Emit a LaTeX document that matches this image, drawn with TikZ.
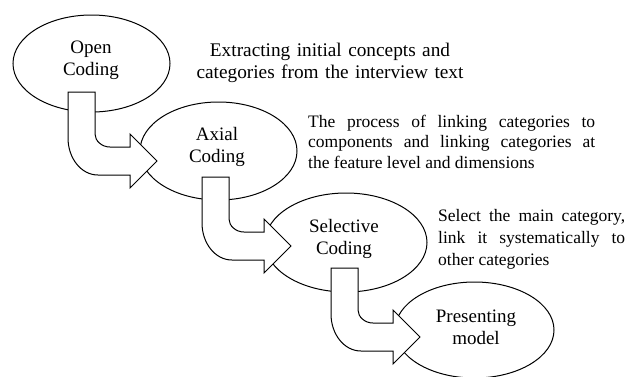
\documentclass[tikz,border=0pt]{standalone}
\usepackage{fontspec}
\setmainfont{Liberation Serif}
\usetikzlibrary{shapes.geometric}
\tikzset{
  ell/.style={ellipse, draw=black, line width=1pt, inner sep=0pt},
  lbl/.style={inner sep=0pt, text width=110pt, align=center, anchor=base,
              font=\fontsize{19}{22}\selectfont},
  desc/.style={inner sep=0pt, anchor=base west, align=justify,
              font=\fontsize{17.5}{20.5}\selectfont},
  arrowshape/.style={draw=black, fill=white, line width=1pt, line join=miter},
  bentarrow/.pic={
    \draw[arrowshape] (0,0) -- (27,0) -- (27,42)
      .. controls (27,49) and (34,55) .. (42,55) -- (62,55) -- (62,42)
      -- (89,69) -- (62,96) -- (62,83) -- (30,83)
      .. controls (13,83) and (0,66) .. (0,46) -- cycle;
  }
}
\begin{document}
\begin{tikzpicture}[x=1pt, y=-1pt]
\useasboundingbox (0,0) rectangle (632,376);
\clip (0,0) rectangle (632,376);
\fill[white] (0,0) rectangle (632,376);
% ellipses
\node[ell, minimum width=157pt, minimum height=97pt] (open) at (91.5,63.5) {};
\node[ell, minimum width=157pt, minimum height=98pt] (axial) at (218.5,151) {};
\node[ell, minimum width=162pt, minimum height=99pt] (sel) at (346,242.5) {};
\node[ell, minimum width=159pt, minimum height=96pt] (pres) at (474.5,330) {};
% bent block arrows
\coordinate (a1) at (68,92);
\coordinate (a2) at (202,177);
\coordinate (a3) at (331,268);
\pic at (a1) {bentarrow};
\pic at (a2) {bentarrow};
\pic at (a3) {bentarrow};
% labels
\node[lbl] (openl) at (91,53) {Open\\Coding};
\node[lbl] (axiall) at (217,140) {Axial\\Coding};
\node[lbl] (sell) at (344,232) {Selective\\Coding};
\node[lbl] (presl) at (476,322) {Presenting\\model};
% descriptions
\node[inner sep=0pt, anchor=base, text width=280pt, align=center,
      font=\fontsize{19.3}{22}\selectfont] (d1) at (330,56)
  {Extracting initial concepts and\\categories from the interview text};
\node[desc, text width=287pt] (d2) at (308,127)
  {The process of linking categories to\linebreak components and linking categories at\linebreak the feature level and dimensions};
\node[desc, text width=187pt, font=\fontsize{17.5}{22}\selectfont] (d3) at (438,221)
  {Select the main category,\linebreak link it systematically to\linebreak other categories};
\end{tikzpicture}
\end{document}
